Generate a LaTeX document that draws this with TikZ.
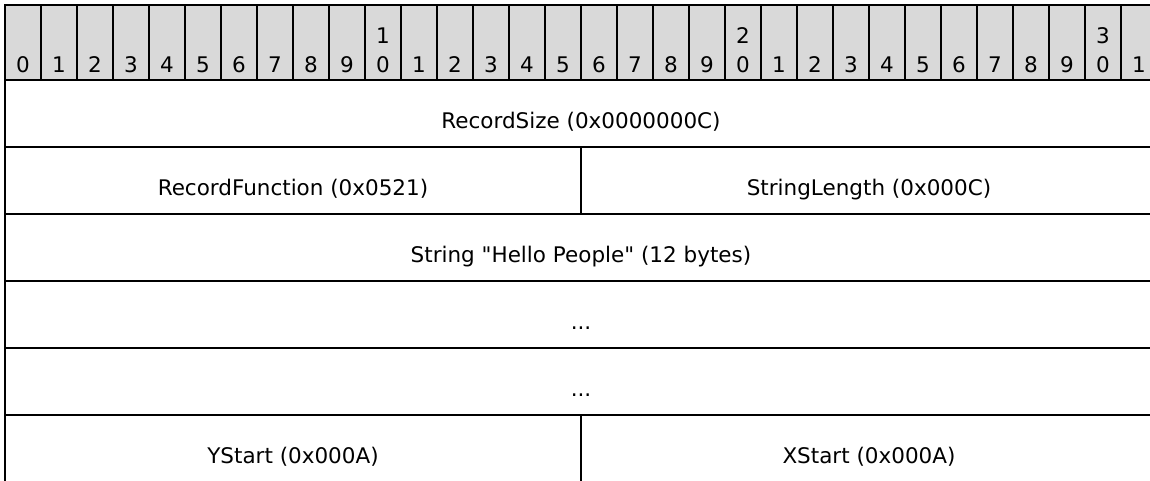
\documentclass[tikz,border=0pt]{standalone}
\usepackage{fontspec}
\setmainfont{DejaVu Sans}[Ligatures=TeXOff]
\usepackage{xcolor}
\definecolor{headgray}{HTML}{D9D9D9}

\tikzset{
  bitcell/.style={draw, fill=headgray},
  bitnum/.style={anchor=base, inner sep=0pt, font=\fontsize{21.5}{29}\selectfont},
  fieldtxt/.style={anchor=base, inner sep=0pt, font=\fontsize{21.5}{29}\selectfont},
}

\begin{document}
\begin{tikzpicture}[x=1pt, y=-1pt, line width=2pt]

\useasboundingbox (0,0) rectangle (1150,480);
\clip (0,0) rectangle (1150,480);

\foreach \i in {0,...,31} {
  \draw[bitcell] ({5+36*\i},5) rectangle ({41+36*\i},80);
  \pgfmathtruncatemacro{\units}{mod(\i,10)}
  \node[bitnum] (b\i) at ({23+36*\i},72) {\units};
  \ifnum\units=0 \ifnum\i>0
    \pgfmathtruncatemacro{\tens}{\i/10}
    \node[bitnum] (t\i) at ({23+36*\i},43) {\tens};
  \fi\fi
}

\draw (5,80) rectangle (1157,147);
\draw (5,147) rectangle (581,214);
\draw (581,147) rectangle (1157,214);
\draw (5,214) rectangle (1157,281);
\draw (5,281) rectangle (1157,348);
\draw (5,348) rectangle (1157,415);
\draw (5,415) rectangle (581,482);
\draw (581,415) rectangle (1157,482);

\node[fieldtxt] (recsize) at (581,128) {RecordSize (0x0000000C)};
\node[fieldtxt] (recfunc) at (293,195) {RecordFunction (0x0521)};
\node[fieldtxt] (strlen) at (869,195) {StringLength (0x000C)};
\node[fieldtxt] (str) at (581,262) {String "Hello People" (12 bytes)};
\node[fieldtxt] (pad1) at (581,329) {...};
\node[fieldtxt] (pad2) at (581,396) {...};
\node[fieldtxt] (ystart) at (293,463) {YStart (0x000A)};
\node[fieldtxt] (xstart) at (869,463) {XStart (0x000A)};

\end{tikzpicture}
\end{document}
